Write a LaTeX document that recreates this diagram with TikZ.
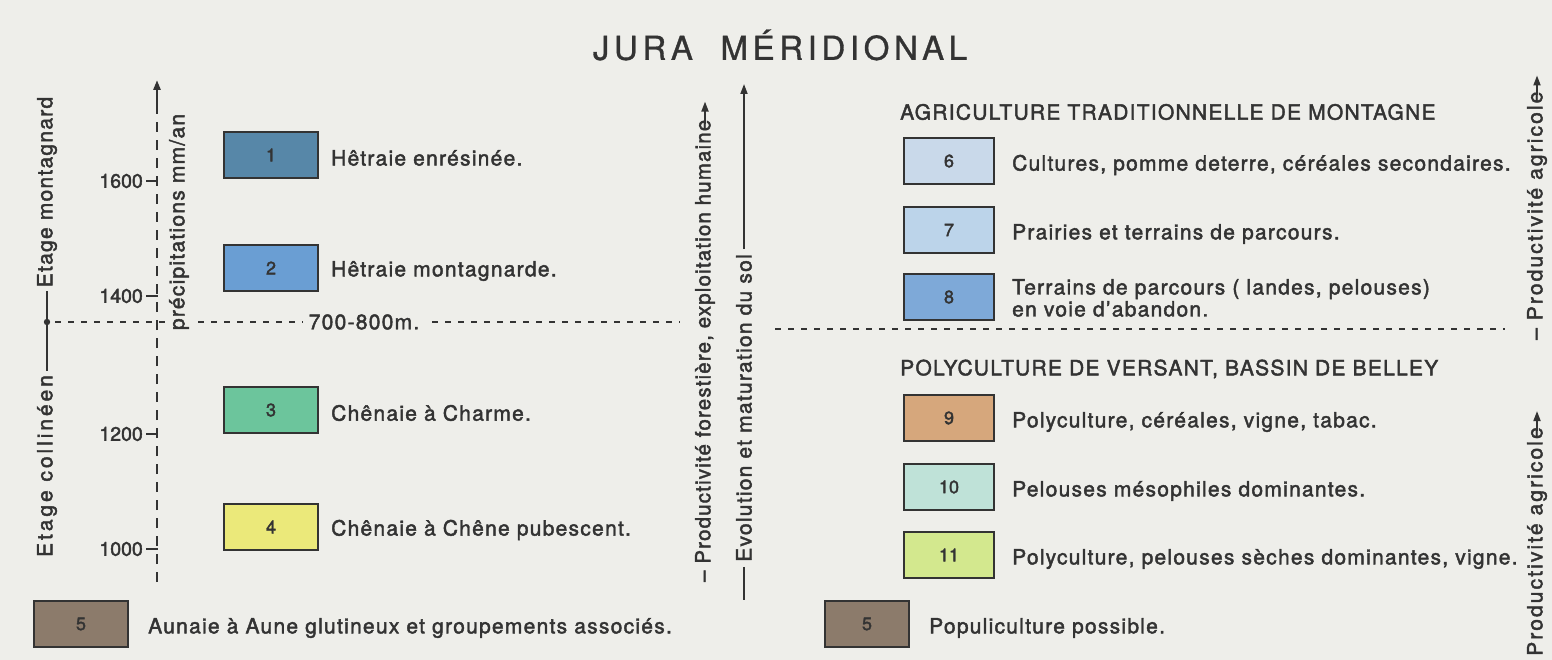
\documentclass[tikz,border=0pt]{standalone}
\usepackage{fontspec}
\setmainfont{TeX Gyre Heros}
\usetikzlibrary{arrows.meta}
\definecolor{bg}{HTML}{EEEEEA}
\definecolor{ink}{HTML}{333333}
\definecolor{cA}{HTML}{5787A8}
\definecolor{cB}{HTML}{6A9ED3}
\definecolor{cC}{HTML}{6CC59C}
\definecolor{cD}{HTML}{EBE97A}
\definecolor{cE}{HTML}{8C7B6B}
\definecolor{cF}{HTML}{C9D9EA}
\definecolor{cG}{HTML}{BCD4EA}
\definecolor{cH}{HTML}{7EA9D8}
\definecolor{cI}{HTML}{D6A77C}
\definecolor{cJ}{HTML}{BFE2D8}
\definecolor{cK}{HTML}{D3E88E}
\newcommand\bodyfont{\fontsize{21}{22}\selectfont\addfontfeature{LetterSpace=6,FakeBold=2}}
\newcommand\numfont{\fontsize{18}{18}\selectfont\addfontfeature{FakeBold=2}}
\newcommand\tickfont{\fontsize{19.5}{20}\selectfont\addfontfeature{FakeBold=2}}
\newcommand\titlefont{\fontsize{33}{36}\selectfont\addfontfeature{LetterSpace=14,FakeBold=1}}
\newcommand\fitw[2]{\resizebox{#1}{\height}{#2}}
\tikzset{
  lbl/.style={text=ink, inner sep=0pt, font=\bodyfont},
  legbox/.style={draw=ink, line width=1.8pt, minimum width=94pt, minimum height=46pt,
                 inner sep=0pt, text=ink, font=\numfont},
  rbox/.style={legbox, minimum width=90pt},
  vtext/.style={lbl, rotate=90},
  dotline/.style={draw=ink, line width=2.6pt, dash pattern=on 6pt off 7pt},
  axisline/.style={draw=ink, line width=2.6pt, dash pattern=on 10pt off 8pt},
  solidline/.style={draw=ink, line width=1.8pt},
  uparrow/.style={draw=ink, line width=1.8pt, -{Triangle[length=10pt,width=7pt]}},
  tick/.style={draw=ink, line width=2.6pt}
}
\begin{document}
\begin{tikzpicture}[x=1pt,y=-1pt]
\fill[bg] (0,0) rectangle (1552,660);
\useasboundingbox (0,0) rectangle (1552,660);

% title
\node[lbl, font=\titlefont] (title) at (780,45) {JURA\ \ MÉRIDIONAL};

% horizontal dotted limit 700-800 m
\coordinate (dl1) at (55,322);
\coordinate (dl2) at (680,322);
\coordinate (dr1) at (775,329);
\coordinate (dr2) at (1505,329);
\draw[dotline] (dl1) -- (dl2);
\draw[dotline] (dr1) -- (dr2);
\node[lbl, fill=bg, inner xsep=6pt, inner ysep=2pt] (alt) at (364,322) {700-800m.};

% precipitation axis
\coordinate (axb) at (157,582);
\coordinate (axm) at (157,112);
\coordinate (axt) at (157,80);
\draw[axisline] (axb) -- (axm);
\draw[uparrow, line width=2.6pt] (axm) -- (axt);
\foreach \yy/\vv in {181/1600, 296/1400, 434/1200, 549/1000}{
  \draw[tick] (146,\yy) -- (158,\yy);
  \node[lbl, font=\tickfont, anchor=east] (tk\vv) at (143,\yy) {\vv};
}
\node[vtext, fill=bg, inner sep=2pt] (prec) at (179,222) {précipitations mm/an};

% etages
\node[vtext, inner sep=4pt] (etm) at (47,192) {Etage montagnard};
\node[vtext, inner sep=4pt, font=\bodyfont\addfontfeature{LetterSpace=14}] (etc) at (47,466) {Etage collinéen};
\draw[solidline] (etc.east) -- (etm.west);
\fill[ink] (47,322) circle (3.2pt);

% left legend
\node[legbox, fill=cA] (b1) at (271,155) {1};
\node[legbox, fill=cB] (b2) at (271,268) {2};
\node[legbox, fill=cC] (b3) at (271,410) {3};
\node[legbox, fill=cD] (b4) at (271,527) {4};
\node[legbox, fill=cE] (b5) at (81,624) {5};
\node[lbl, anchor=west] (t1) at (331,158) {Hêtraie enrésinée.};
\node[lbl, anchor=west] (t2) at (331,271) {Hêtraie montagnarde.};
\node[lbl, anchor=west] (t3) at (331,413) {Chênaie à Charme.};
\node[lbl, anchor=west] (t4) at (331,530) {Chênaie à Chêne pubescent.};
\node[lbl, anchor=west] (t5) at (148,628) {Aunaie à Aune glutineux et groupements associés.};

% middle arrows
\node[vtext, anchor=west, inner sep=0pt] (prodf) at (705,582) {\fitw{462pt}{– Productivité forestière, exploitation humaine}};
\draw[uparrow] ([yshift=-4pt]prodf.east) -- ++(0,-22);
\node[vtext, inner sep=5pt] (evo) at (744,408) {Evolution et maturation du sol};
\draw[uparrow] (evo.east) -- (744,84);
\draw[solidline] (evo.west) -- (744,600);

% right legend
\node[lbl, anchor=west] (h1) at (900,112) {AGRICULTURE TRADITIONNELLE DE MONTAGNE};
\node[rbox, fill=cF] (b6) at (949,161) {6};
\node[rbox, fill=cG] (b7) at (949,230) {7};
\node[rbox, fill=cH] (b8) at (949,297) {8};
\node[lbl, anchor=west] (t6) at (1012,165) {Cultures, pomme deterre, céréales secondaires.};
\node[lbl, anchor=west] (t7) at (1012,234) {Prairies et terrains de parcours.};
\node[lbl, anchor=west, align=left] (t8) at (1012,298) {Terrains de parcours ( landes, pelouses)\\ en voie d’abandon.};

\node[lbl, anchor=west] (h2) at (900,369) {POLYCULTURE DE VERSANT, BASSIN DE BELLEY};
\node[rbox, fill=cI] (b9) at (949,418) {9};
\node[rbox, fill=cJ] (b10) at (949,487) {10};
\node[rbox, fill=cK] (b11) at (949,555) {11};
\node[lbl, anchor=west] (t9) at (1012,422) {Polyculture, céréales, vigne, tabac.};
\node[lbl, anchor=west] (t10) at (1012,491) {Pelouses mésophiles dominantes.};
\node[lbl, anchor=west] (t11) at (1012,559) {Polyculture, pelouses sèches dominantes, vigne.};

\node[legbox, fill=cE, minimum width=84pt] (b5r) at (867,624) {5};
\node[lbl, anchor=west] (t5r) at (929,628) {Populiculture possible.};

% right side productivity arrows
\node[vtext, anchor=west, font=\bodyfont\addfontfeature{LetterSpace=10}] (pa1) at (1537,340) {– Productivité agricole};
\draw[uparrow] ([yshift=-4pt]pa1.east) -- ++(0,-20);
\node[vtext, anchor=west, font=\bodyfont\addfontfeature{LetterSpace=10}] (pa2) at (1537,656) {Productivité agricole};
\draw[uparrow] ([yshift=-4pt]pa2.east) -- ++(0,-20);
\end{tikzpicture}
\end{document}
